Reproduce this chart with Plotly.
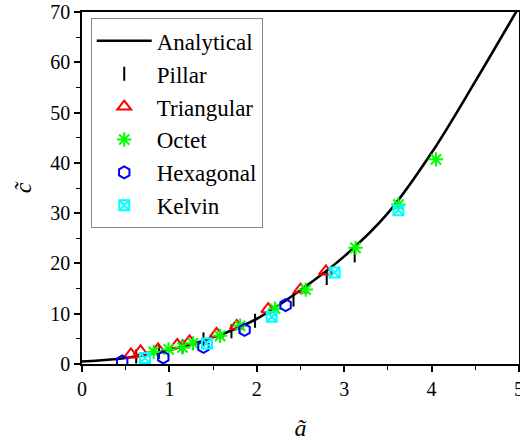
import plotly.graph_objects as go

# Analytical curve
curve_a = [0.0, 0.5, 1.0, 1.5, 2.0, 2.5, 3.0, 3.5, 4.0, 4.5, 5.0]
curve_c = [0.5, 1.2, 2.8, 5.3, 9.0, 14.7, 21.4, 30.0, 42.0, 56.2, 71.0]

pillar_a = [0.62, 0.88, 1.15, 1.39, 1.71, 1.98, 2.42, 2.80, 3.12]
pillar_c = [1.5, 2.4, 3.5, 4.9, 6.5, 8.6, 12.8, 17.1, 21.6]

tri_a = [0.56, 0.67, 0.87, 1.09, 1.23, 1.54, 1.77, 2.13, 2.50, 2.79]
tri_c = [1.9, 2.5, 2.9, 3.8, 4.5, 6.0, 7.6, 10.9, 14.8, 18.4]

oct_a = [0.82, 0.99, 1.15, 1.27, 1.58, 1.81, 2.21, 2.56, 3.13, 3.62, 4.05]
oct_c = [2.4, 2.9, 3.3, 4.1, 5.6, 7.6, 11.0, 14.8, 23.1, 31.7, 40.7]

hex_a = [0.46, 0.93, 1.39, 1.86, 2.33]
hex_c = [0.5, 1.3, 3.4, 6.8, 11.7]

kel_a = [0.72, 1.43, 2.17, 2.89, 3.62]
kel_c = [1.2, 4.1, 9.4, 18.2, 30.6]

x_ticks = [0, 1, 2, 3, 4, 5]
y_ticks = [0, 10, 20, 30, 40, 50, 60, 70]

FONT = "Liberation Serif"

fig = go.Figure()
fig.add_trace(go.Scatter(x=curve_a, y=curve_c, mode="lines", name="Analytical",
                         line=dict(color="black", width=2.6, shape="spline"),
                         legendgroup="g1"))
fig.add_trace(go.Scatter(x=pillar_a, y=pillar_c, mode="markers", name="Pillar",
                         marker=dict(symbol="line-ns-open", size=10, color="black",
                                     line=dict(color="black", width=2)),
                         legendgroup="g2"))
fig.add_trace(go.Scatter(x=tri_a, y=tri_c, mode="markers", name="Triangular",
                         marker=dict(symbol="triangle-up-open", size=12, color="#ff0000",
                                     line=dict(color="#ff0000", width=2)),
                         legendgroup="g3"))
fig.add_trace(go.Scatter(x=oct_a, y=oct_c, mode="markers", name="Octet",
                         marker=dict(symbol="asterisk-open", size=12, color="#00ff00",
                                     line=dict(color="#00ff00", width=2)),
                         legendgroup="g4"))
fig.add_trace(go.Scatter(x=hex_a, y=hex_c, mode="markers", name="Hexagonal",
                         marker=dict(symbol="hexagon-open", size=12, color="#0000ff",
                                     line=dict(color="#0000ff", width=2)),
                         legendgroup="g5"))
fig.add_trace(go.Scatter(x=kel_a, y=kel_c, mode="markers", name="Kelvin",
                         marker=dict(symbol="square-x-open", size=10, color="#00ffff",
                                     line=dict(color="#00ffff", width=2)),
                         legendgroup="g6"))

fig.update_layout(
    width=520, height=444,
    margin=dict(l=82, r=1, t=12, b=80, autoexpand=False),
    paper_bgcolor="white", plot_bgcolor="white",
    font=dict(family=FONT, size=20, color="black"),
    showlegend=True,
    legend=dict(x=0.02, y=0.982, xanchor="left", yanchor="top",
                bordercolor="#888888", borderwidth=1, bgcolor="white",
                font=dict(family=FONT, size=23, color="black"),
                itemwidth=55,
                traceorder="grouped", tracegroupgap=0),
)
fig.update_xaxes(
    range=[0, 5], tickvals=x_ticks, ticktext=[str(v) for v in x_ticks],
    automargin=False, ticklabeloverflow="allow",
    showgrid=False, zeroline=False,
    showline=True, linecolor="black", linewidth=1.5, mirror=True,
    ticks="outside", ticklen=6, tickwidth=1.5, tickcolor="black",
    minor=dict(ticks="outside", ticklen=4, dtick=0.5, tickcolor="black", tickwidth=1.2),
    title=dict(text="<i>ã</i>", font=dict(family=FONT, size=24), standoff=20),
)
fig.update_yaxes(
    range=[0, 70], tickvals=y_ticks, ticktext=[str(v) for v in y_ticks],
    automargin=False, ticklabeloverflow="allow",
    showgrid=False, zeroline=False,
    showline=True, linecolor="black", linewidth=1.5, mirror=True,
    ticks="outside", ticklen=6, tickwidth=1.5, tickcolor="black",
    minor=dict(ticks="outside", ticklen=4, dtick=5, tickcolor="black", tickwidth=1.2),
    title=dict(text="<i>c\u0303</i>", font=dict(family=FONT, size=24), standoff=12),
)

fig.write_html("out.html", config={"displayModeBar": False},
               post_script="document.body.style.margin='0';")
